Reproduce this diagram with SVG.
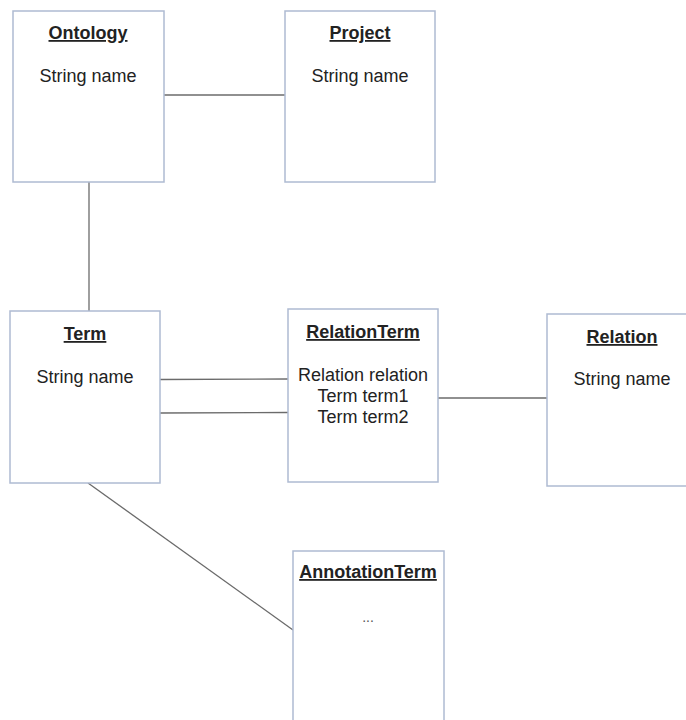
<svg xmlns="http://www.w3.org/2000/svg" width="686" height="720" viewBox="0 0 686 720">
  <style>
    .box { fill: #ffffff; stroke: #aebbd2; stroke-width: 1.5; }
    .link { stroke: #6b6b6b; stroke-width: 1.3; fill: none; }
    .title { font-family: "Liberation Sans", Arial, sans-serif; font-size: 18px; font-weight: bold; text-decoration: underline; fill: #222; text-anchor: middle; }
    .attr { font-family: "Liberation Sans", Arial, sans-serif; font-size: 18px; fill: #222; text-anchor: middle; }
    .dots { font-family: "Liberation Sans", Arial, sans-serif; font-size: 14px; fill: #555; text-anchor: middle; }
  </style>
  <rect width="686" height="720" fill="#ffffff"/>

  <g id="connectors">
    <line class="link" x1="164" y1="95" x2="285" y2="95"/>
    <line class="link" x1="89" y1="182" x2="89" y2="311"/>
    <line class="link" x1="160" y1="379.5" x2="288" y2="379"/>
    <line class="link" x1="160" y1="413" x2="288" y2="412.5"/>
    <line class="link" x1="438" y1="398" x2="547" y2="398"/>
    <line class="link" x1="88" y1="483" x2="293" y2="630"/>
  </g>

  <g id="ontology">
    <rect class="box" x="13" y="11" width="151" height="171"/>
    <text class="title" x="88" y="39">Ontology</text>
    <text class="attr" x="88" y="82">String name</text>
  </g>

  <g id="project">
    <rect class="box" x="285" y="11" width="150" height="171"/>
    <text class="title" x="360" y="39">Project</text>
    <text class="attr" x="360" y="82">String name</text>
  </g>

  <g id="term">
    <rect class="box" x="10" y="311" width="150" height="172"/>
    <text class="title" x="85" y="340">Term</text>
    <text class="attr" x="85" y="383">String name</text>
  </g>

  <g id="relationterm">
    <rect class="box" x="288" y="309" width="150" height="173"/>
    <text class="title" x="363" y="338">RelationTerm</text>
    <text class="attr" x="363" y="381">Relation relation</text>
    <text class="attr" x="363" y="402">Term term1</text>
    <text class="attr" x="363" y="423">Term term2</text>
  </g>

  <g id="relation">
    <rect class="box" x="547" y="314" width="150" height="172"/>
    <text class="title" x="622" y="343">Relation</text>
    <text class="attr" x="622" y="385">String name</text>
  </g>

  <g id="annotationterm">
    <rect class="box" x="293" y="551" width="151" height="180"/>
    <text class="title" x="368" y="578">AnnotationTerm</text>
    <text class="dots" x="368" y="622">...</text>
  </g>
</svg>
